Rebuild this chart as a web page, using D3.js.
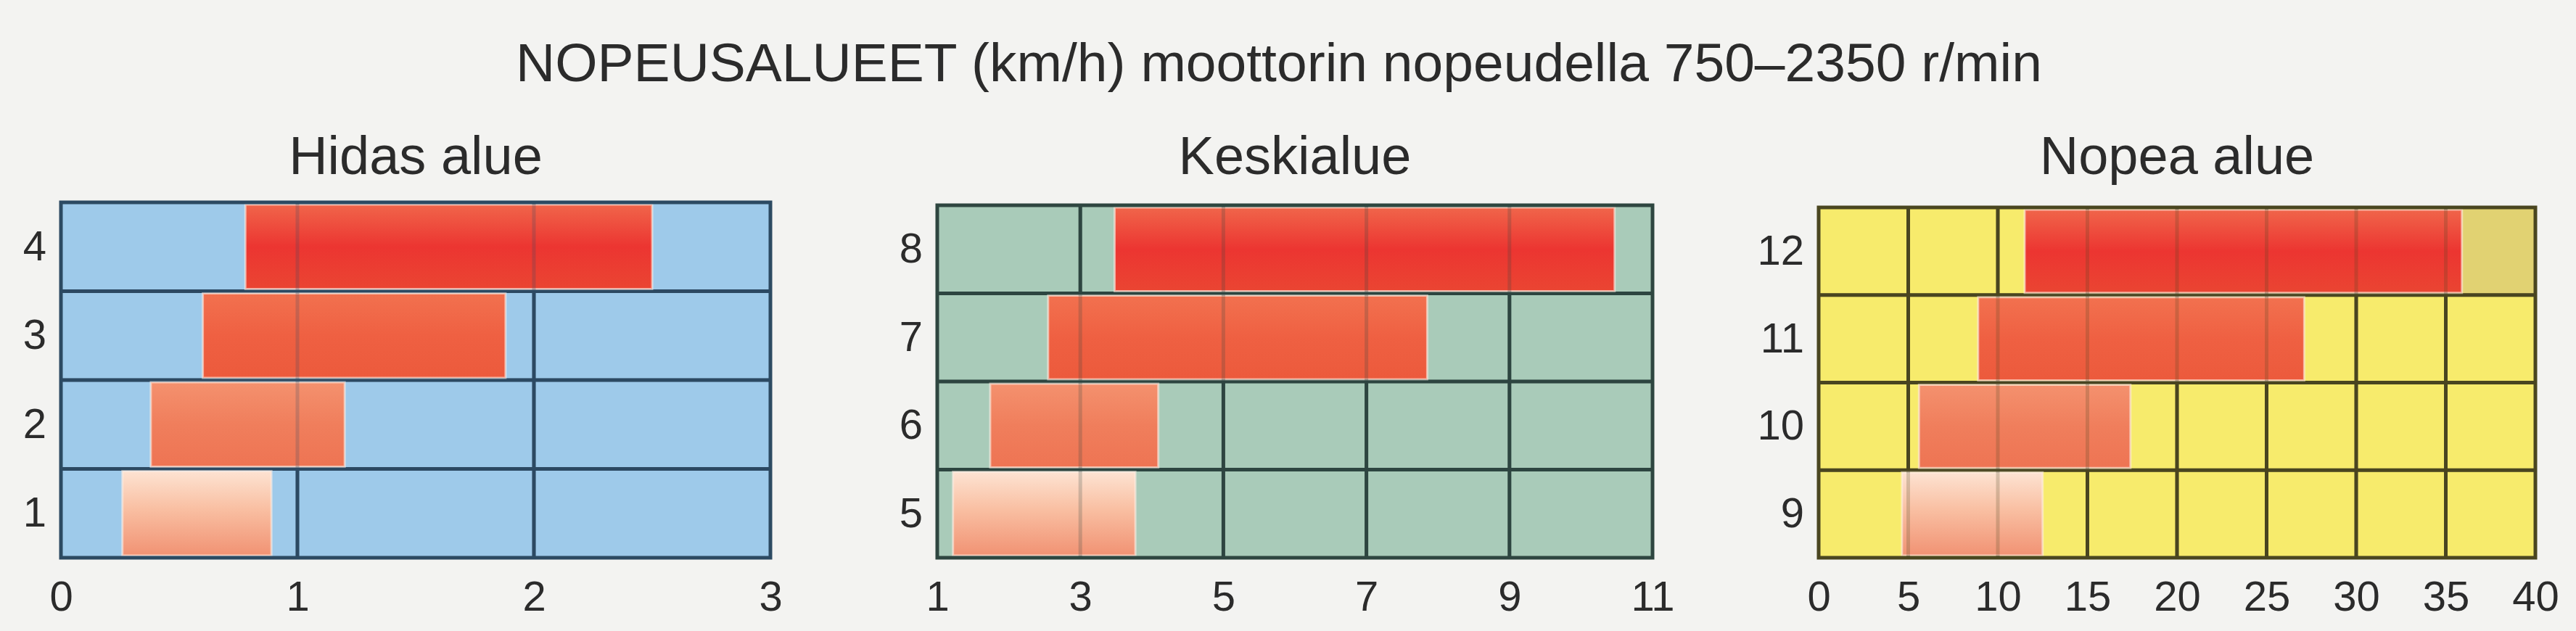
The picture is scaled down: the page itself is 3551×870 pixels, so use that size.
<!DOCTYPE html>
<meta charset="utf-8">
<head>
    <script type="text/javascript" src="https://cdn.jsdelivr.net/npm/d3@7/dist/d3.min.js"></script>
    <style>
        body { margin: 0; background: #f3f3f1; }
        text { font-family: "Liberation Sans", Arial, sans-serif; fill: #2b2b2b; }
        .axis path, .axis line { display: none; }
    </style>
</head>
<body>
<div id="chart"></div>
<script>
    // chart text
    var mainTitle = "NOPEUSALUEET (km/h) moottorin nopeudella 750\u20132350 r/min";
    var panelTitles = ["Hidas alue", "Keskialue", "Nopea alue"];

    // gears (rows) per panel
    var hidasGears = [1, 2, 3, 4];
    var keskiGears = [5, 6, 7, 8];
    var nopeaGears = [9, 10, 11, 12];

    // x axis ticks per panel (km/h)
    var hidasTicks = [0, 1, 2, 3];
    var keskiTicks = [1, 3, 5, 7, 9, 11];
    var nopeaTicks = [0, 5, 10, 15, 20, 25, 30, 35, 40];

    // speed range for each gear (km/h)
    var hidasFrom = [0.26, 0.38, 0.60, 0.78];
    var hidasTo   = [0.89, 1.20, 1.88, 2.50];
    var keskiFrom = [1.22, 1.74, 2.55, 3.48];
    var keskiTo   = [3.77, 4.09, 7.85, 10.47];
    var nopeaFrom = [4.65, 5.6, 8.9, 11.5];
    var nopeaTo   = [12.5, 17.4, 27.1, 35.9];

    // darker tinted cell at the top right of the fast panel
    var nopeaTint = [{gear: 12, from: 35.9, to: 40}];

    var w = 3551, h = 870;

    var svg = d3.select("#chart").append("svg")
        .attr("width", w).attr("height", h)
        .attr("viewBox", "0 0 " + w + " " + h);

    // gradients for the four gear levels (lowest = palest)
    var defs = svg.append("defs");
    var levelStops = [
        [["0%", "#fde3d2"], ["45%", "#f9bfa2"], ["100%", "#f19273"]],
        [["0%", "#f4916e"], ["50%", "#f07e5c"], ["100%", "#ee7453"]],
        [["0%", "#f2714f"], ["50%", "#ef6042"], ["100%", "#ec5a3c"]],
        [["0%", "#f0654a"], ["50%", "#ec3531"], ["100%", "#ea4532"]]
    ];
    levelStops.forEach(function (stops, i) {
        var g = defs.append("linearGradient").attr("id", "lvl" + i)
            .attr("x1", 0).attr("y1", 0).attr("x2", 0).attr("y2", 1);
        stops.forEach(function (s) {
            g.append("stop").attr("offset", s[0]).attr("stop-color", s[1]);
        });
    });

    svg.append("text")
        .attr("x", 1763).attr("y", 112)
        .attr("text-anchor", "middle")
        .style("font-size", "75px")
        .text(mainTitle);

    var panels = [
        {title: panelTitles[0], gears: hidasGears, ticks: hidasTicks, from: hidasFrom, to: hidasTo, tint: [],
         x0: 84, x1: 1062, y0: 279, y1: 769, bg: "#9ecaea", grid: "#2c4a62"},
        {title: panelTitles[1], gears: keskiGears, ticks: keskiTicks, from: keskiFrom, to: keskiTo, tint: [],
         x0: 1292, x1: 2278, y0: 283, y1: 769, bg: "#a9cbb9", grid: "#2e4640"},
        {title: panelTitles[2], gears: nopeaGears, ticks: nopeaTicks, from: nopeaFrom, to: nopeaTo, tint: nopeaTint,
         x0: 2507, x1: 3495, y0: 286, y1: 769, bg: "#f7eb6c", grid: "#4a4620"}
    ];

    panels.forEach(drawPanel);

    function drawPanel(p) {
        var x = d3.scaleLinear()
            .domain(d3.extent(p.ticks))
            .range([p.x0, p.x1]);
        var y = d3.scaleBand()
            .domain(p.gears.slice().reverse())
            .range([p.y0, p.y1]);

        var g = svg.append("g");

        g.append("text")
            .attr("x", (p.x0 + p.x1) / 2).attr("y", 240)
            .attr("text-anchor", "middle")
            .style("font-size", "74px")
            .text(p.title);

        // background
        g.append("rect")
            .attr("x", p.x0).attr("y", p.y0)
            .attr("width", p.x1 - p.x0).attr("height", p.y1 - p.y0)
            .attr("fill", p.bg);

        g.selectAll(".tint").data(p.tint).enter().append("rect")
            .attr("x", d => x(d.from)).attr("y", d => y(d.gear))
            .attr("width", d => x(d.to) - x(d.from))
            .attr("height", y.bandwidth())
            .attr("fill", "#e1d272");

        var inner = p.ticks.slice(1, -1);

        function grid(sel, opacity) {
            sel.selectAll(".vl").data(inner).enter().append("line")
                .attr("x1", d => x(d)).attr("x2", d => x(d))
                .attr("y1", p.y0).attr("y2", p.y1)
                .attr("stroke", p.grid).attr("stroke-width", 5)
                .attr("stroke-opacity", opacity);
            sel.selectAll(".hl").data(p.gears.slice(0, -1)).enter().append("line")
                .attr("x1", p.x0).attr("x2", p.x1)
                .attr("y1", d => y(d)).attr("y2", d => y(d))
                .attr("stroke", p.grid).attr("stroke-width", 5)
                .attr("stroke-opacity", opacity);
        }

        grid(g.append("g"), 1);

        // gear ranges
        var bars = p.gears.map((gear, i) => ({gear: gear, lvl: i, from: p.from[i], to: p.to[i]}));
        g.append("g").selectAll("rect").data(bars).enter().append("rect")
            .attr("x", d => x(d.from))
            .attr("y", d => y(d.gear) + 3)
            .attr("width", d => x(d.to) - x(d.from))
            .attr("height", y.bandwidth() - 6)
            .attr("fill", d => "url(#lvl" + d.lvl + ")")
            .attr("stroke", "#fdeee4")
            .attr("stroke-opacity", 0.6)
            .attr("stroke-width", 3);

        // faint grid showing through the bars
        grid(g.append("g"), 0.22);

        g.append("rect")
            .attr("x", p.x0).attr("y", p.y0)
            .attr("width", p.x1 - p.x0).attr("height", p.y1 - p.y0)
            .attr("fill", "none")
            .attr("stroke", p.grid).attr("stroke-width", 5);

        g.append("g").attr("class", "axis")
            .attr("transform", "translate(0," + p.y1 + ")")
            .call(d3.axisBottom(x).tickValues(p.ticks).tickSize(0).tickPadding(32).tickFormat(d3.format("d")))
            .selectAll("text").style("font-size", "58px").attr("fill", "#2b2b2b");

        g.append("g").attr("class", "axis")
            .attr("transform", "translate(" + p.x0 + ",0)")
            .call(d3.axisLeft(y).tickSize(0).tickPadding(20))
            .selectAll("text").style("font-size", "58px").attr("fill", "#2b2b2b");

        g.selectAll(".axis").attr("font-family", null).attr("font-size", null);
    }
</script>
</body>
</html>
